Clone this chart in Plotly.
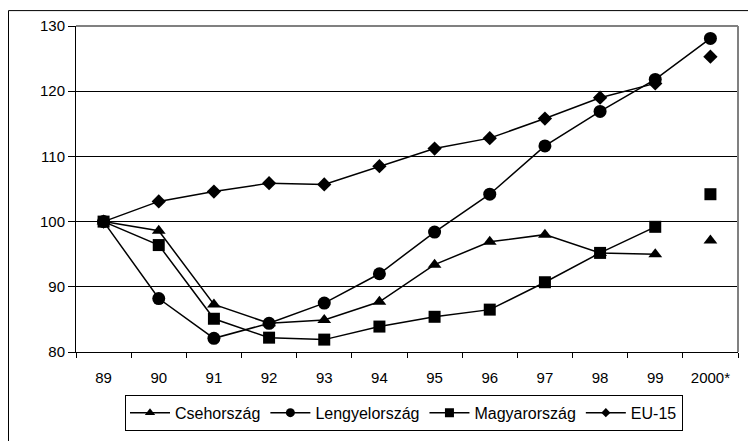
import plotly.graph_objects as go

years = ["89", "90", "91", "92", "93", "94", "95", "96", "97", "98", "99", "2000*"]

cseh = [100, 98.6, 87.3, 84.4, 84.9, 87.7, 93.4, 96.9, 98.0, 95.2, 95.0, 97.1]
lengyel = [100, 88.2, 82.1, 84.4, 87.5, 92.0, 98.4, 104.2, 111.6, 116.9, 121.8, 128.1]
magyar = [100, 96.4, 85.1, 82.2, 81.9, 83.9, 85.4, 86.5, 90.7, 95.2, 99.2, 104.2]
eu15 = [100, 103.1, 104.6, 105.9, 105.7, 108.5, 111.2, 112.8, 115.8, 119.0, 121.2, 125.3]

series = [
    ("Csehország", cseh, "triangle-up", 12, 9, False),
    ("Lengyelország", lengyel, "circle", 13, 9, True),
    ("Magyarország", magyar, "square", 12, 9, False),
    ("EU-15", eu15, "diamond", 11, 7, False),
]

fig = go.Figure()
for name, vals, sym, sz, lsz, connected in series:
    n = len(vals) if connected else len(vals) - 1
    fig.add_trace(go.Scatter(
        x=years[:n], y=vals[:n], mode="lines+markers", name=name,
        line=dict(color="black", width=1.5),
        marker=dict(symbol=sym, size=sz, color="black"),
        legendgroup=name, showlegend=False,
    ))
    if not connected:
        fig.add_trace(go.Scatter(
            x=years[n:], y=vals[n:], mode="markers", name=name,
            marker=dict(symbol=sym, size=sz, color="black"),
            legendgroup=name, showlegend=False,
        ))
    # legend entry (smaller marker as in the reference)
    fig.add_trace(go.Scatter(
        x=[None], y=[None], mode="lines+markers", name=name,
        line=dict(color="black", width=1.5),
        marker=dict(symbol=sym, size=lsz, color="black"),
        legendgroup=name, showlegend=True,
    ))

L, R, T, B = 76, 10, 26, 87
W, H = 748, 441
pw, ph = W - L - R, H - T - B

def px(xp):
    return (xp - L) / pw

def py(yp):
    return (H - B - yp) / ph

fig.update_layout(
    width=W, height=H,
    margin=dict(l=L, r=R, t=T, b=B),
    paper_bgcolor="white", plot_bgcolor="white",
    font=dict(family="Liberation Sans, Arial, sans-serif", size=15, color="black"),
    showlegend=True,
    legend=dict(
        orientation="h", x=px(404), xanchor="center", y=py(397), yanchor="top",
        bordercolor="black", borderwidth=1, font=dict(size=16),
        tracegroupgap=0, itemwidth=40,
    ),
    xaxis=dict(
        type="category", categoryorder="array", categoryarray=years,
        showgrid=False, showline=True, linecolor="black", linewidth=1,
        ticks="outside", tickson="boundaries", ticklen=5, tickcolor="black",
        tickfont=dict(size=15), range=[-0.5, len(years) - 0.5],
        ticklabelstandoff=12, fixedrange=True,
    ),
    yaxis=dict(
        range=[80, 130], dtick=10, showgrid=True, gridcolor="black", gridwidth=1,
        showline=True, linecolor="black", linewidth=1,
        ticks="outside", ticklen=7, tickcolor="black",
        tickfont=dict(size=15), zeroline=False, fixedrange=True,
    ),
    shapes=[
        dict(type="line", xref="paper", yref="paper", x0=0, x1=1, y0=1, y1=1,
             line=dict(color="#808080", width=2), layer="above"),
        dict(type="line", xref="paper", yref="paper", x0=1, x1=1, y0=0, y1=1,
             line=dict(color="#808080", width=2), layer="above"),
        dict(type="rect", xref="paper", yref="paper",
             x0=px(8.5), x1=px(760), y0=py(460), y1=py(10.5),
             line=dict(color="black", width=1), fillcolor="rgba(0,0,0,0)",
             layer="below"),
    ],
)

fig.write_html("out.html")
